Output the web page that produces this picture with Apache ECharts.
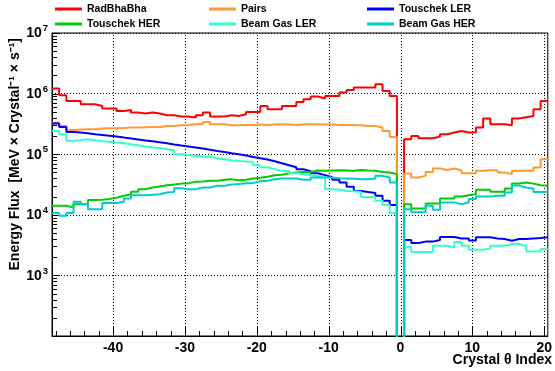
<!DOCTYPE html>
<html>
<head>
<meta charset="utf-8">
<script src="https://cdn.jsdelivr.net/npm/echarts@6/dist/echarts.min.js"></script>
<style>
html,body{margin:0;padding:0;background:#fff;}
#chart{width:555px;height:371px;}
</style>
</head>
<body>
<div id="chart"></div>
<script>
// ---- data ----
const bins = [-48,-47,-46,-45,-44,-43,-42,-41,-40,-39,-38,-37,-36,-35,-34,-33,-32,-31,-30,-29,-28,-27,-26,-25,-24,-23,-22,-21,-20,-19,-18,-17,-16,-15,-14,-13,-12,-11,-10,-9,-8,-7,-6,-5,-4,-3,-2,-1,0,1,2,3,4,5,6,7,8,9,10,11,12,13,14,15,16,17,18,19,20];

const radBhaBha = [1.21e6,9.4e5,7.55e5,7.55e5,6.67e5,6.67e5,6.25e5,5.66e5,5.66e5,5.16e5,5.37e5,4.86e5,4.69e5,4.86e5,4.69e5,4.39e5,4.39e5,4.18e5,4.18e5,4.03e5,4.39e5,4.86e5,4.18e5,4.18e5,4.39e5,4.28e5,4.56e5,4.98e5,4.98e5,6.25e5,5.51e5,5.51e5,6.25e5,6.25e5,7.27e5,8.05e5,8.93e5,8.28e5,9.12e5,9.12e5,1.04e6,1.15e6,1.26e6,1.26e6,1.26e6,1.42e6,1.10e6,9.12e5,
  0,
  1.77e5,2.0e5,1.84e5,1.84e5,1.96e5,2.13e5,2.28e5,2.42e5,2.28e5,2.28e5,2.75e5,3.87e5,3.12e5,3.12e5,3.0e5,3.87e5,4.07e5,4.28e5,5.51e5,7.55e5];

const pairs = [3.33e5,2.92e5,2.51e5,2.55e5,2.58e5,2.61e5,2.65e5,2.68e5,2.68e5,2.71e5,2.75e5,2.75e5,2.79e5,2.82e5,2.82e5,2.92e5,2.92e5,3.0e5,3.04e5,3.12e5,3.12e5,3.40e5,3.12e5,3.12e5,3.0e5,3.0e5,3.04e5,3.04e5,3.08e5,3.04e5,3.08e5,3.12e5,3.08e5,3.04e5,3.08e5,3.12e5,3.12e5,3.08e5,3.08e5,3.04e5,3.04e5,3.04e5,3.0e5,2.92e5,2.92e5,2.75e5,2.42e5,1.93e5,
  0,
  4.81e4,4.13e4,4.39e4,5.1e4,5.8e4,5.5e4,5.8e4,5.38e4,4.86e4,4.86e4,5.31e4,5.45e4,5.45e4,5.0e4,4.69e4,5.31e4,5.31e4,5.31e4,6.04e4,8.28e4];

const touschekLER = [3.21e5,2.82e5,2.33e5,2.28e5,2.22e5,2.13e5,2.08e5,2.02e5,1.96e5,1.88e5,1.82e5,1.75e5,1.68e5,1.64e5,1.58e5,1.52e5,1.45e5,1.39e5,1.34e5,1.29e5,1.24e5,1.18e5,1.13e5,1.09e5,1.04e5,1.0e5,9.5e4,9.0e4,8.6e4,8.2e4,7.67e4,7.11e4,6.59e4,6.11e4,5.66e4,5.25e4,4.86e4,4.51e4,4.18e4,3.80e4,3.42e4,2.89e4,2.48e4,2.37e4,2.28e4,2.06e4,1.70e4,1.45e4,
  0,
  3.83e3,3.42e3,3.61e3,3.61e3,3.83e3,4.30e3,4.30e3,4.06e3,4.06e3,3.76e3,4.25e3,4.25e3,4.06e3,3.98e3,3.73e3,3.98e3,3.98e3,4.06e3,4.13e3,4.25e3];

const touschekHER = [1.41e4,1.41e4,1.32e4,1.50e4,1.50e4,1.75e4,1.77e4,1.82e4,1.92e4,2.06e4,2.19e4,2.41e4,2.65e4,2.83e4,2.92e4,3.08e4,3.15e4,3.27e4,3.33e4,3.52e4,3.54e4,3.63e4,3.63e4,3.80e4,3.87e4,3.73e4,3.80e4,3.98e4,4.10e4,4.26e4,4.51e4,4.59e4,4.86e4,5.0e4,5.1e4,5.1e4,5.38e4,5.31e4,5.38e4,5.45e4,5.38e4,5.31e4,5.5e4,5.38e4,5.31e4,5.1e4,5.0e4,4.69e4,
  0,
  1.50e4,1.27e4,1.27e4,1.54e4,1.54e4,1.86e4,1.86e4,2.01e4,2.11e4,2.19e4,2.58e4,2.58e4,2.39e4,2.39e4,2.72e4,3.29e4,3.42e4,3.27e4,3.08e4,3.01e4];

const beamGasLER = [2.42e5,2.13e5,1.66e5,1.70e5,1.77e5,1.70e5,1.64e5,1.60e5,1.56e5,1.52e5,1.46e5,1.41e5,1.34e5,1.29e5,1.26e5,1.21e5,1.16e5,1.0e5,9.73e4,9.38e4,9.16e4,9.04e4,8.6e4,8.28e4,7.96e4,7.76e4,7.59e4,7.5e4,6.6e4,6.1e4,5.66e4,5.31e4,5.31e4,4.86e4,4.69e4,4.51e4,4.35e4,4.18e4,2.65e4,2.58e4,2.48e4,2.45e4,2.37e4,1.96e4,1.96e4,1.71e4,1.45e4,1.07e4,
  0,
  2.94e3,2.43e3,2.43e3,2.43e3,3.08e3,3.08e3,2.90e3,3.55e3,3.08e3,2.65e3,2.65e3,2.79e3,3.08e3,3.08e3,3.29e3,3.29e3,3.05e3,2.49e3,2.49e3,2.72e3];

const beamGasHER = [1.07e4,9.64e3,1.07e4,1.64e4,1.50e4,1.24e4,1.24e4,1.56e4,1.56e4,1.64e4,1.86e4,2.11e4,2.11e4,2.15e4,2.19e4,2.34e4,2.37e4,2.75e4,2.65e4,2.65e4,2.83e4,2.83e4,3.01e4,3.01e4,3.15e4,3.21e4,3.33e4,3.33e4,3.59e4,3.63e4,3.87e4,3.98e4,3.98e4,3.98e4,3.78e4,3.78e4,4.13e4,4.13e4,4.13e4,4.0e4,3.98e4,3.95e4,3.87e4,3.87e4,3.98e4,4.39e4,4.13e4,3.42e4,
  0,
  1.24e4,1.10e4,1.10e4,1.41e4,1.21e4,1.60e4,1.60e4,1.50e4,1.60e4,1.82e4,2.0e4,2.0e4,2.06e4,2.06e4,2.34e4,3.03e4,2.83e4,2.72e4,2.37e4,2.39e4];

const seriesNames = ['RadBhaBha','Pairs','Touschek LER','Touschek HER','Beam Gas LER','Beam Gas HER'];
const seriesValues = [radBhaBha, pairs, touschekLER, touschekHER, beamGasLER, beamGasHER];
const seriesColors = ['#ff0000','#ff9933','#0000ff','#00cc00','#33ffcc','#00cccc'];

const xMajorTicks = [-40,-30,-20,-10,0,10,20];
const xMinorTicks = [-48,-46,-44,-42,-38,-36,-34,-32,-28,-26,-24,-22,-18,-16,-14,-12,-8,-6,-4,-2,2,4,6,8,12,14,16,18];
const yDecades = [100,1000,10000,100000,1000000,10000000];
const yMinorMultipliers = [2,3,4,5,6,7,8,9];

const yMin = 100, yMax = 1e7;
const FONT = '"Liberation Sans", Arial, Helvetica, sans-serif';

// ---- build ----
function histData(vals) {
  const below = 1; // empty bins fall below the axis floor (clipped)
  const pts = bins.map((b, i) => [b - 0.5, vals[i] > 0 ? vals[i] : below]);
  pts.push([bins[bins.length - 1] + 0.5, vals[vals.length - 1]]);
  return pts;
}

const chart = echarts.init(document.getElementById('chart'), null, {renderer: 'canvas'});

const legendLeft = [55, 209, 367];
const legends = seriesNames.map((n, i) => ({
  data: [n],
  left: legendLeft[i % 3],
  top: i < 3 ? 3 : 18,
  orient: 'horizontal',
  icon: 'rect',
  itemWidth: 27,
  itemHeight: 3,
  padding: 0,
  selectedMode: false,
  textStyle: {fontFamily: FONT, fontWeight: 'bold', fontSize: 10.5, color: '#000', lineHeight: 12}
}));

const lineSeries = seriesNames.map((n, i) => ({
  name: n,
  type: 'line',
  step: 'end',
  data: histData(seriesValues[i]),
  showSymbol: false,
  symbol: 'none',
  clip: true,
  color: seriesColors[i],
  lineStyle: {color: seriesColors[i], width: 2},
  z: 3 + i
}));

const decorSeries = {
  type: 'custom',
  name: 'axisDecor',
  silent: true,
  clip: false,
  z: 2,
  data: [[0, 1000]],
  renderItem: function (params, api) {
    const cs = params.coordSys;
    const left = cs.x, top = cs.y, bottom = cs.y + cs.height;
    const children = [];
    const tickStyle = {stroke: '#000', lineWidth: 1};
    xMajorTicks.forEach(v => {
      const x = Math.round(api.coord([v, 1000])[0]) + 0.5;
      children.push({type: 'line', shape: {x1: x, y1: bottom, x2: x, y2: top},
        style: {stroke: '#000', lineWidth: 1, lineDash: [1, 2]}});
      children.push({type: 'line', shape: {x1: x, y1: bottom, x2: x, y2: bottom - 10}, style: tickStyle});
    });
    xMinorTicks.forEach(v => {
      const x = Math.round(api.coord([v, 1000])[0]) + 0.5;
      children.push({type: 'line', shape: {x1: x, y1: bottom, x2: x, y2: bottom - 5}, style: tickStyle});
    });
    yDecades.forEach(d => {
      const y = Math.round(api.coord([0, d])[1]) + 0.5;
      children.push({type: 'line', shape: {x1: left, y1: y, x2: left + 8, y2: y}, style: tickStyle});
      yMinorMultipliers.forEach(m => {
        const v = d * m;
        if (v > yMax) return;
        const ym = Math.round(api.coord([0, v])[1]) + 0.5;
        children.push({type: 'line', shape: {x1: left, y1: ym, x2: left + 5, y2: ym}, style: tickStyle});
      });
    });
    return {type: 'group', children: children};
  }
};

const option = {
  animation: false,
  backgroundColor: '#fff',
  legend: legends,
  grid: {left: 52, top: 33, width: 500, height: 303, show: true, borderColor: '#000', borderWidth: 1, backgroundColor: 'transparent'},
  xAxis: {
    type: 'value',
    min: bins[0] - 0.5,
    max: bins[bins.length - 1] + 0.5,
    axisLine: {show: true, onZero: false, lineStyle: {color: '#000', width: 1}},
    axisTick: {show: false},
    splitLine: {show: false},
    axisLabel: {
      customValues: xMajorTicks,
      margin: 5,
      color: '#000',
      fontFamily: FONT,
      fontWeight: 'bold',
      fontSize: 14
    }
  },
  yAxis: {
    type: 'log',
    logBase: 10,
    min: yMin,
    max: yMax,
    axisLine: {show: true, onZero: false, lineStyle: {color: '#000', width: 1}},
    axisTick: {show: false},
    splitLine: {show: true, lineStyle: {color: '#000', width: 1, type: [1, 2]}},
    axisLabel: {
      margin: 4,
      formatter: function (v) {
        if (v <= yMin) return '';
        const e = Math.round(Math.log10(v));
        return '{b|10}{s|' + e + '}';
      },
      rich: {
        b: {fontFamily: FONT, fontWeight: 'bold', fontSize: 14, color: '#000', verticalAlign: 'bottom', lineHeight: 15},
        s: {fontFamily: FONT, fontWeight: 'bold', fontSize: 9.5, color: '#000', verticalAlign: 'bottom', lineHeight: 10, padding: [0, 0, 7, 1]}
      }
    }
  },
  graphic: [
    {
      type: 'text', x: 15, y: 38, rotation: Math.PI / 2, silent: true,
      style: {text: 'Energy Flux  [MeV × Crystal\u207B\u00B9 × s\u207B\u00B9]', font: 'bold 14px ' + FONT, fill: '#000',
        align: 'right', verticalAlign: 'middle', textAlign: 'right', textVerticalAlign: 'middle'}
    },
    {
      type: 'text', x: 552, y: 360, silent: true,
      style: {text: 'Crystal \u03B8 Index', font: 'bold 14px ' + FONT, fill: '#000',
        align: 'right', verticalAlign: 'middle', textAlign: 'right', textVerticalAlign: 'middle'}
    }
  ],
  series: [decorSeries].concat(lineSeries)
};

chart.setOption(option);
</script>
</body>
</html>
